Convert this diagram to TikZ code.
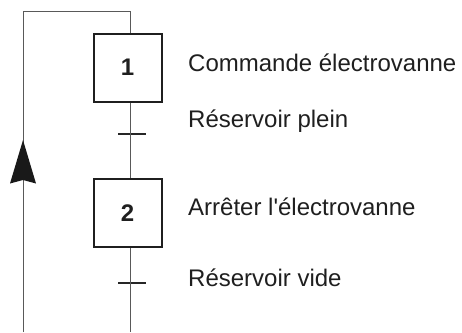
\documentclass[tikz,border=0pt]{standalone}
\usepackage{fontspec}
\setmainfont{Liberation Sans}
\newfontfamily\plainapos{Liberation Sans}
\begin{document}
\begin{tikzpicture}[x=1pt,y=-1pt,
  wire/.style={draw=black!65, line width=1pt},
  stepbox/.style={draw=black!88, line width=2pt, minimum size=68pt, inner sep=0pt,
    font=\fontsize{24}{27}\selectfont\bfseries, text=black!88},
  tbar/.style={fill=black!85, minimum width=28pt, minimum height=2pt, inner sep=0pt},
  lbl/.style={anchor=base west, inner sep=0pt, font=\fontsize{24}{27}\selectfont, text=black!88}]
\useasboundingbox (0,0) rectangle (462,332);
\coordinate (top) at (130,11);
\coordinate (ltop) at (23,11);
\coordinate (lbot) at (23,332);
\coordinate (rbot) at (130,332);
\node[stepbox] (s1) at (127.5,67.5) {1};
\node[stepbox] (s2) at (127.5,213) {2};
\node[tbar] (t1) at (131.5,134.3) {};
\node[tbar] (t2) at (131.5,282.7) {};
\draw[wire] (lbot) -- (ltop) -- (top) -- (top |- s1.north);
\draw[wire] (top |- s1.south) -- (top |- s2.north);
\draw[wire] (top |- s2.south) -- (rbot);
\fill[black!90] (23,140) -- (36,183.5) -- (23,180) -- (10,183.5) -- cycle;
\node[lbl] (a1) at (188,71.7) {Commande électrovanne};
\node[lbl] (r1) at (188,127.3) {Réservoir plein};
\node[lbl] (a2) at (188,215) {Arrêter l{\plainapos '}électrovanne};
\node[lbl] (r2) at (188,286.7) {Réservoir vide};
\end{tikzpicture}
\end{document}
